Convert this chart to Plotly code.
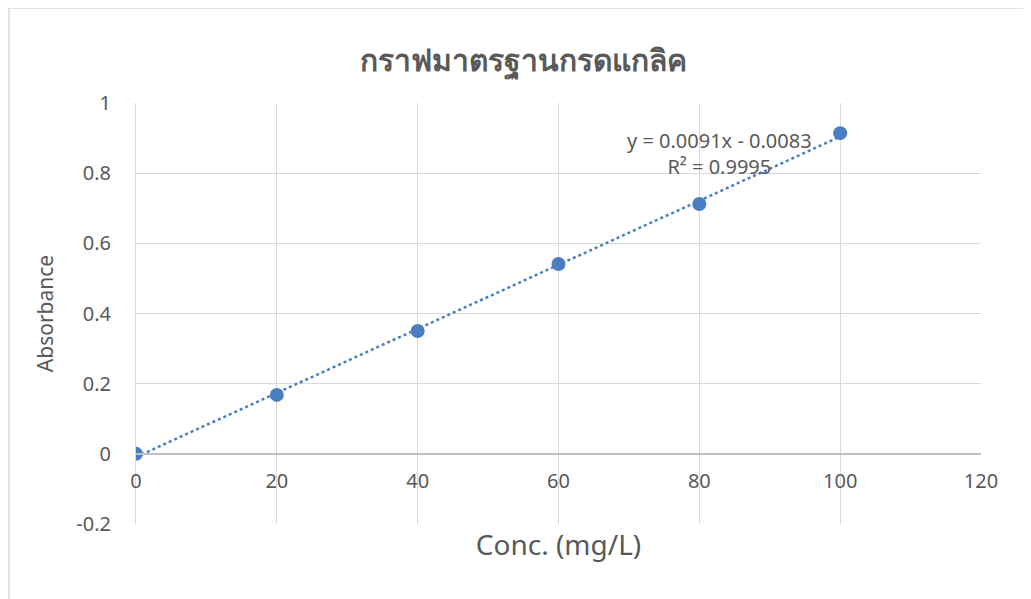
import numpy as np
import plotly.graph_objects as go

conc = [0, 20, 40, 60, 80, 100]
absorbance = [0.0, 0.168, 0.350, 0.541, 0.712, 0.914]
x_ticks = [0, 20, 40, 60, 80, 100, 120]
x_tick_labels = ["0", "20", "40", "60", "80", "100", "120"]
y_ticks = [-0.2, 0, 0.2, 0.4, 0.6, 0.8, 1.0]
y_tick_labels = ["-0.2", "0", "0.2", "0.4", "0.6", "0.8", "1"]
title_text = "กราฟมาตรฐานกรดแกลิค"
x_title = "Conc. (mg/L)"
y_title = "Absorbance"
eq_text = "y = 0.0091x - 0.0083<br>R² = 0.9995"

slope, intercept = np.polyfit(conc, absorbance, 1)
trend_x = np.linspace(min(conc), max(conc), 50)
trend_y = slope * trend_x + intercept

gray = "#595959"
blue = "#4A7EC0"
font_main = "Noto Sans, Liberation Sans, sans-serif"

# page body has an 8px margin; figure coordinates = screen - 8
L, T, PW, PH = 128, 95, 845, 421
W, H = 1031, 599

fig = go.Figure()
fig.add_trace(go.Scatter(x=trend_x, y=trend_y, mode="lines",
                         line=dict(color=blue, width=2.5, dash="dot"),
                         hoverinfo="skip", showlegend=False))
fig.add_trace(go.Scatter(x=conc, y=absorbance, mode="markers",
                         marker=dict(color=blue, size=14),
                         showlegend=False))

fig.add_annotation(x=82.8, y=0.855, xref="x", yref="y", text=eq_text,
                   showarrow=False, align="center",
                   font=dict(family=font_main, size=20, color=gray))

fig.update_layout(
    width=W, height=H,
    margin=dict(l=L, r=W - L - PW, t=T, b=H - T - PH),
    paper_bgcolor="white", plot_bgcolor="white",
    title=dict(text="<b>" + title_text + "</b>", x=0.5, xanchor="center",
               y=1 - 52 / H, yanchor="middle", yref="container",
               font=dict(family=font_main, size=30, color=gray)),
    xaxis=dict(range=[0, 120], tickvals=x_ticks, ticktext=x_tick_labels,
               showgrid=True, gridcolor="#d9d9d9",
               gridwidth=1, zeroline=False, showline=True, linecolor="#bfbfbf",
               linewidth=1.5, anchor="free", position=1 / 6,
               ticks="outside", ticklen=9, tickcolor="rgba(0,0,0,0)",
               tickfont=dict(family=font_main, size=20, color=gray),
               title=dict(text=x_title, standoff=42,
                          font=dict(family=font_main, size=28, color=gray))),
    yaxis=dict(range=[-0.2, 1.0], tickvals=y_ticks, ticktext=y_tick_labels,
               showgrid=True, gridcolor="#d9d9d9",
               gridwidth=1, zeroline=False, showline=True, linecolor="#d9d9d9",
               linewidth=1, ticks="outside", ticklen=20,
               tickcolor="rgba(0,0,0,0)",
               tickfont=dict(family=font_main, size=20, color=gray),
               title=dict(text=y_title, standoff=16,
                          font=dict(family=font_main, size=21, color=gray))),
)

# outer chart border (left and top edges visible)
bx = (1 - L) / PW
by = (T + PH - 0) / PH
fig.add_shape(type="line", xref="paper", yref="paper",
              x0=bx, x1=bx, y0=-(H - T - PH) / PH, y1=by,
              line=dict(color="#d9d9d9", width=1.5))
fig.add_shape(type="line", xref="paper", yref="paper",
              x0=bx, x1=(W - L) / PW, y0=by, y1=by,
              line=dict(color="#d9d9d9", width=1.5))

fig.write_html("out.html")
